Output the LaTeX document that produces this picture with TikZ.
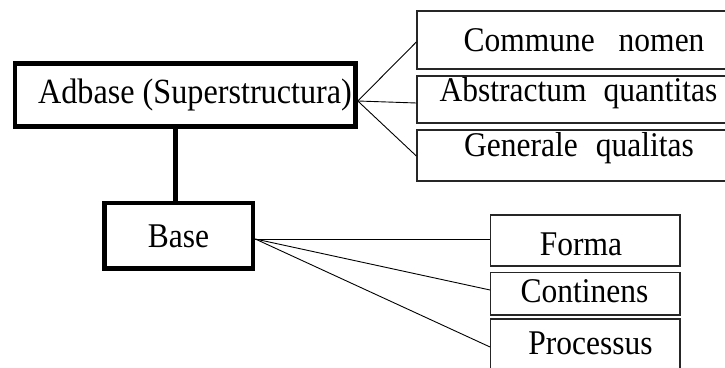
\documentclass[tikz,border=0pt]{standalone}
\usepackage{fontspec}
\setmainfont{Liberation Serif}
\begin{document}
\begin{tikzpicture}[x=1pt,y=1pt,
  thickbox/.style={draw=black,line width=4.6pt,inner sep=0pt,minimum width=#1},
  thinbox/.style={draw=black!85,line width=1.3pt,inner sep=0pt,minimum width=#1},
  lbl/.style={anchor=base,inner sep=0pt,yscale=1.1,transform shape,font=\fontsize{31.5}{36}\selectfont},
  biglbl/.style={lbl,font=\fontsize{32.2}{38}\selectfont},
  conn/.style={draw=black,line width=0.9pt},
  stem/.style={draw=black,line width=4.6pt}]
\useasboundingbox (0,0) rectangle (725,367);
\clip (0,0) rectangle (725,367);
% boxes
\node[thickbox=340.5pt,minimum height=63pt] (a) at (185.25,272) {};
\node[thickbox=148.3pt,minimum height=65.7pt] (b) at (178.85,131.15) {};
\node[thinbox=343pt,minimum height=58pt] (c1) at (588.5,327) {};
\node[thinbox=343pt,minimum height=47pt] (c2) at (588.5,267.5) {};
\node[thinbox=343pt,minimum height=51pt] (c3) at (588.5,211.5) {};
\node[thinbox=189.3pt,minimum height=51pt] (f) at (585.35,126.5) {};
\node[thinbox=189.3pt,minimum height=42.3pt] (ct) at (585.35,73.15) {};
\node[thinbox=189.3pt,minimum height=61pt] (p) at (585.35,17.5) {};
% texts
\node[biglbl] (ta) at (195,263) {Adbase (Superstructura)};
\node[lbl] (tb) at (178.5,119) {Base};
\node[lbl] (tc1) at (584,315) {Commune\hspace*{24pt}nomen};
\node[lbl] (tc2) at (578.5,265) {Abstractum\hspace*{17pt}quantitas};
\node[lbl] (tc3) at (579,210) {Generale\hspace*{18pt}qualitas};
\node[lbl] (tf) at (581,112) {Forma};
\node[lbl] (tct) at (584.5,65) {Continens};
\node[lbl] (tp) at (590.5,13) {Processus};
% junctions
\coordinate (aj) at ([yshift=-6pt]a.east);
\coordinate (bj) at ([yshift=-3.15pt]b.east);
% connectors
\draw[stem] ([xshift=-3.15pt]b.north) -- ([xshift=-3.15pt]b.north |- a.south);
\draw[conn] (aj) -- ([yshift=-2pt]c1.west);
\draw[conn] (aj) -- ([yshift=-3.5pt]c2.west);
\draw[conn] (aj) -- ([yshift=-0.5pt]c3.west);
\draw[conn] (bj) -- ([yshift=1.5pt]f.west);
\draw[conn] (bj) -- ([yshift=3.85pt]ct.west);
\draw[conn] (bj) -- ([yshift=2.5pt]p.west);
\end{tikzpicture}
\end{document}
